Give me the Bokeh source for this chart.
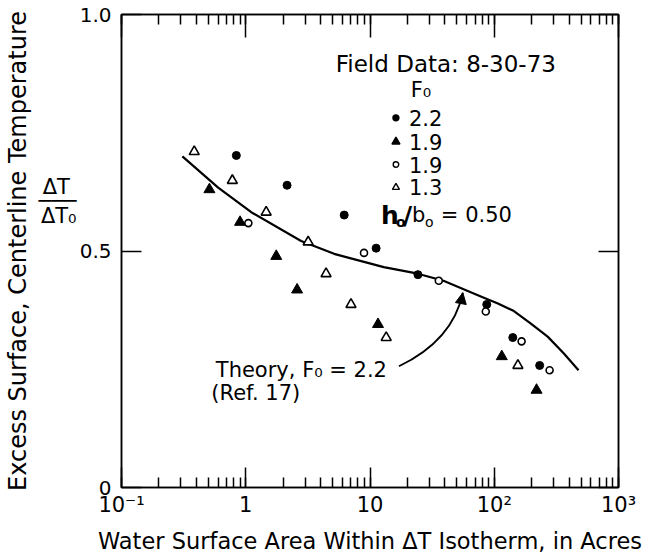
import math
from bokeh.plotting import figure
from bokeh.models import (LogAxis, LinearAxis, FixedTicker, LogTicker, CustomJSTickFormatter,
                          Label, Arrow, NormalHead, Range1d)
from bokeh.embed import file_html
from bokeh.resources import INLINE

FONT = "DejaVu Sans"

# ---------------- data ----------------
circ22_x = [0.84, 2.15, 6.2, 11.2, 24.3, 87, 141, 232]
circ22_y = [0.702, 0.639, 0.576, 0.506, 0.450, 0.387, 0.317, 0.258]

tri19_x = [0.51, 0.90, 1.76, 2.59, 11.6, 115, 219]
tri19_y = [0.630, 0.561, 0.489, 0.418, 0.345, 0.277, 0.206]

ocirc19_x = [1.05, 8.95, 35.8, 85.5, 166, 279]
ocirc19_y = [0.559, 0.496, 0.437, 0.372, 0.309, 0.248]

otri13_x = [0.385, 0.78, 1.46, 3.18, 4.43, 7.03, 13.5, 155]
otri13_y = [0.710, 0.649, 0.582, 0.519, 0.452, 0.387, 0.317, 0.258]

theory_x = [0.309, 0.60, 1.107, 2.79, 5.14, 12.9, 24.3, 39, 78, 107, 144, 196, 269, 362, 477]
theory_y = [0.700, 0.634, 0.582, 0.521, 0.494, 0.466, 0.452, 0.437, 0.404, 0.389, 0.373, 0.347, 0.319, 0.284, 0.248]

x_tick_labels = ["10\u207b\u00b9", "1", "10", "10\u00b2", "10\u00b3"]
y_ticks = [0, 0.5, 1.0]
y_tick_labels = ["0", "0.5", "1.0"]
legend_values = ["2.2", "1.9", "1.9", "1.3"]
ratio_label = ["\u0394T\u00a0", "\u2500\u2500\u2500", "\u0394T\u2080"]

# ---------------- frame geometry helpers (for annotations) ----------------
W, H = 645, 556
FL, FR, FT, FB = 120, 618, 14, 490


def px2x(px):
    return 10 ** (-1 + 4.0 * (px - FL) / (FR - FL))


def py2y(py):
    return (FB - py) / (FB - FT)


p = figure(width=W, height=H, x_axis_type="log",
           x_range=Range1d(0.1, 1000), y_range=Range1d(0, 1),
           output_backend="svg", toolbar_location=None,
           min_border_left=FL, min_border_right=W - FR,
           min_border_top=FT, min_border_bottom=H - FB)
p.grid.visible = False
p.outline_line_color = "black"
p.outline_line_width = 1.5
p.background_fill_color = "white"
p.border_fill_color = "white"

xt = LogTicker(num_minor_ticks=10)
fmt = CustomJSTickFormatter(args=dict(labels=x_tick_labels),
                            code="const i = Math.round(Math.log10(tick)) + 1; return labels[i] || '';")
blank = CustomJSTickFormatter(code="return ' ';")

xa = p.xaxis[0]
xa.ticker = xt
xa.formatter = fmt
xa.axis_label = "Water Surface Area Within \u0394T Isotherm, in Acres"
xa.axis_label_text_font = FONT
xa.axis_label_text_font_size = "22.5px"
xa.axis_label_text_font_style = "normal"
xa.axis_label_text_color = "black"
xa.axis_label_standoff = 8
xa.major_label_text_font = FONT
xa.major_label_text_font_size = "21px"
xa.major_label_text_color = "black"
xa.major_label_standoff = 5
xa.major_tick_in = 20
xa.major_tick_out = 0
xa.minor_tick_in = 10
xa.minor_tick_out = 0
xa.axis_line_width = 1.5
xa.major_tick_line_width = 1.5
xa.minor_tick_line_width = 1.5

top = LogAxis(ticker=xt, formatter=blank, major_label_text_font_size="1px", major_label_standoff=0,
              major_tick_in=23, major_tick_out=0, minor_tick_in=10, minor_tick_out=0,
              axis_line_width=1.5, major_tick_line_width=1.5, minor_tick_line_width=1.5)
p.add_layout(top, "above")

yt = FixedTicker(ticks=y_ticks)
ya = p.yaxis[0]
ya.ticker = yt
ya.major_label_overrides = {float(t): s for t, s in zip(y_ticks, y_tick_labels)}
ya.major_label_text_font = FONT
ya.major_label_text_font_size = "20px"
ya.major_label_text_color = "black"
ya.major_label_standoff = 10
ya.major_tick_in = 20
ya.major_tick_out = 0
ya.minor_tick_line_color = None
ya.axis_line_width = 1.5
ya.major_tick_line_width = 1.5

# outer left axis: carries the DeltaT / DeltaT0 ratio and the axis title
ratio_py = [188, 202, 217]
ratio_ticks = [py2y(v) for v in ratio_py]
outer = LinearAxis(ticker=FixedTicker(ticks=ratio_ticks),
                   major_label_overrides={t: s for t, s in zip(ratio_ticks, ratio_label)},
                   major_label_text_font=FONT, major_label_text_font_size="21px",
                   major_label_text_color="black", major_label_standoff=0,
                   major_tick_line_color=None, minor_tick_line_color=None, axis_line_color=None,
                   major_tick_in=0, major_tick_out=0,
                   axis_label="Excess Surface, Centerline Temperature",
                   axis_label_text_font=FONT, axis_label_text_font_size="24px",
                   axis_label_text_font_style="normal", axis_label_text_color="black",
                   axis_label_standoff=4)
p.add_layout(outer, "left")

right = LinearAxis(ticker=yt, formatter=blank, major_label_text_font_size="1px", major_label_standoff=0,
                   major_tick_in=20, major_tick_out=0, minor_tick_line_color=None,
                   axis_line_width=1.5, major_tick_line_width=1.5)
p.add_layout(right, "right")

# ---------------- data glyphs ----------------
p.line(theory_x, theory_y, line_color="black", line_width=2.2, line_join="round")
p.scatter(circ22_x, circ22_y, marker="circle", size=8, fill_color="black", line_color="black")
p.scatter(tri19_x, tri19_y, marker="triangle", size=11, fill_color="black", line_color="black")
p.scatter(ocirc19_x, ocirc19_y, marker="circle", size=7, fill_color="white", line_color="black", line_width=1.6)
p.scatter(otri13_x, otri13_y, marker="triangle", size=10, fill_color="white", line_color="black", line_width=1.6)


def lab(px, py, text, size="21px", align="left", style="normal"):
    p.add_layout(Label(x=px2x(px), y=py2y(py), text=text, text_font=FONT, text_font_size=size,
                       text_align=align, text_baseline="middle", text_font_style=style,
                       text_color="black"))


# legend block
lab(445, 64, "Field Data: 8-30-73", size="23px", align="center")
lab(420, 90, "F\u2080", size="21px", align="center")
leg_y = [118, 142, 165, 188]
markers = [("circle", 6, "black"), ("triangle", 8, "black"), ("circle", 5.5, "white"), ("triangle", 7, "white")]
for (mk, sz, fc), yy, txt in zip(markers, leg_y, legend_values):
    p.scatter([px2x(395)], [py2y(yy)], marker=mk, size=sz, fill_color=fc, line_color="black", line_width=1.4)
    lab(408, yy, txt)

lab(380, 216, "h", size="25px", style="bold")
lab(395, 223, "o", size="14px", style="bold")
lab(402, 216, "/", size="25px", style="bold")
lab(411, 216, "b", size="21px")
lab(424, 223, "o", size="14px")
lab(440, 216, "= 0.50", size="21px")

# theory annotation
lab(386, 372, "Theory, F\u2080 = 2.2", size="21px", align="right")
lab(210, 395, "(Ref. 17)", size="21px")

# curved arrow (quadratic bezier) toward the theory curve
x0, y0 = 398, 368
xc, yc = 452, 342
x1, y1 = 462, 294
p.quadratic(x0=[px2x(x0)], y0=[py2y(y0)], x1=[px2x(x1)], y1=[py2y(y1)],
            cx=[px2x(xc)], cy=[py2y(yc)], line_color="black", line_width=1.8)
p.add_layout(Arrow(end=NormalHead(size=11, fill_color="black", line_color="black"),
                   x_start=px2x(460), y_start=py2y(305), x_end=px2x(x1), y_end=py2y(y1),
                   line_color="black", line_width=1.8))

open("out.html", "w").write(file_html(p, INLINE))
